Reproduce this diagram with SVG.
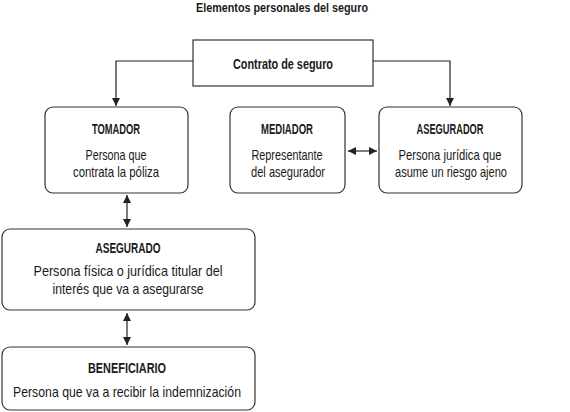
<svg xmlns="http://www.w3.org/2000/svg" width="570" height="412" viewBox="0 0 570 412">
<style>
text{font-family:"Liberation Sans Narrow","Liberation Sans",Arial,sans-serif;fill:#1a1a1a;text-anchor:middle;font-size:14.5px}
.b{font-weight:bold;font-size:14px}
.t{font-size:13px}
.box{fill:#fff;stroke:#333;stroke-width:1.2}
.c{fill:none;stroke:#222;stroke-width:1.2}
</style>
<defs>
<marker id="ah" viewBox="0 0 10 10" refX="10" refY="5" markerWidth="8" markerHeight="8" markerUnits="userSpaceOnUse" orient="auto-start-reverse" preserveAspectRatio="none">
<path d="M0,0 L10,5 L0,10 Z" fill="#222"/>
</marker>
</defs>
<rect width="570" height="412" fill="#fff"/>
<text class="b t" x="282" y="12" textLength="172" lengthAdjust="spacingAndGlyphs">Elementos personales del seguro</text>
<g id="connectors">
<polyline class="c" points="193,61 116,61 116,106" marker-end="url(#ah)"/>
<polyline class="c" points="373,61 450,61 450,106" marker-end="url(#ah)"/>
<line class="c" x1="348" y1="151" x2="377" y2="151" marker-start="url(#ah)" marker-end="url(#ah)"/>
<line class="c" x1="127" y1="195" x2="127" y2="227" marker-start="url(#ah)" marker-end="url(#ah)"/>
<line class="c" x1="127" y1="313" x2="127" y2="345" marker-start="url(#ah)" marker-end="url(#ah)"/>
</g>
<g id="contrato">
<rect class="box" x="193" y="40" width="180" height="46"/>
<text class="b" x="283" y="69" textLength="100" lengthAdjust="spacingAndGlyphs">Contrato de seguro</text>
</g>
<g id="tomador">
<rect class="box" x="45" y="107" width="143" height="86" rx="8"/>
<text class="b" x="116" y="134" textLength="48" lengthAdjust="spacingAndGlyphs">TOMADOR</text>
<text x="116" y="160" textLength="61" lengthAdjust="spacingAndGlyphs">Persona que</text>
<text x="116" y="177" textLength="86" lengthAdjust="spacingAndGlyphs">contrata la póliza</text>
</g>
<g id="mediador">
<rect class="box" x="230" y="107" width="115" height="86" rx="8"/>
<text class="b" x="287" y="134" textLength="52" lengthAdjust="spacingAndGlyphs">MEDIADOR</text>
<text x="287" y="160" textLength="71" lengthAdjust="spacingAndGlyphs">Representante</text>
<text x="288" y="177" textLength="74" lengthAdjust="spacingAndGlyphs">del asegurador</text>
</g>
<g id="asegurador">
<rect class="box" x="379" y="107" width="143" height="86" rx="8"/>
<text class="b" x="450" y="134" textLength="67" lengthAdjust="spacingAndGlyphs">ASEGURADOR</text>
<text x="450" y="160" textLength="103" lengthAdjust="spacingAndGlyphs">Persona jurídica que</text>
<text x="451" y="177" textLength="112" lengthAdjust="spacingAndGlyphs">asume un riesgo ajeno</text>
</g>
<g id="asegurado">
<rect class="box" x="2" y="229" width="253" height="81" rx="8"/>
<text class="b" x="128" y="253" textLength="65" lengthAdjust="spacingAndGlyphs">ASEGURADO</text>
<text x="128" y="276" textLength="189" lengthAdjust="spacingAndGlyphs">Persona física o jurídica titular del</text>
<text x="128" y="294" textLength="151" lengthAdjust="spacingAndGlyphs">interés que va a asegurarse</text>
</g>
<g id="beneficiario">
<rect class="box" x="2" y="347" width="253" height="63" rx="8"/>
<text class="b" x="127" y="373" textLength="78" lengthAdjust="spacingAndGlyphs">BENEFICIARIO</text>
<text x="127" y="397" textLength="228" lengthAdjust="spacingAndGlyphs">Persona que va a recibir la indemnización</text>
</g>
</svg>
